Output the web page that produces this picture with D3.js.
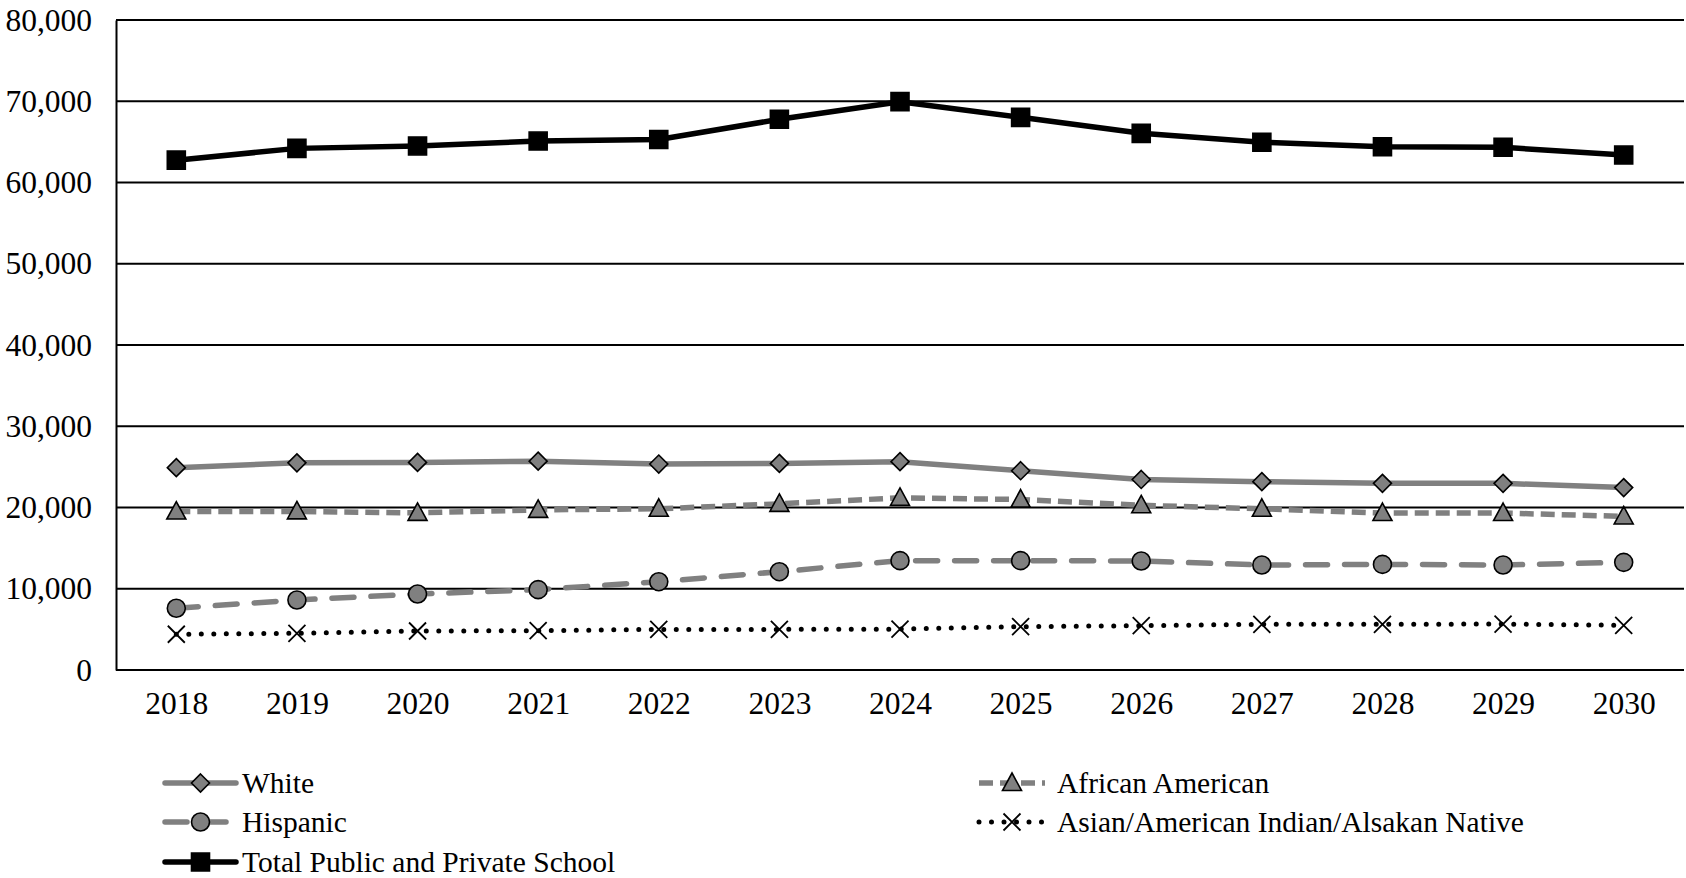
<!DOCTYPE html>
<html>
<head>
<meta charset="utf-8">
<script src="https://cdn.jsdelivr.net/npm/d3@7"></script>
<style>
  html, body { margin: 0; padding: 0; background: #fff; }
  svg { display: block; font-family: "Liberation Serif", "Times New Roman", serif; }
</style>
</head>
<body>
<svg id="chart" width="1686" height="878"></svg>
<script>
// Enrollment projections by group, 2018–2030
const years = ["2018","2019","2020","2021","2022","2023","2024","2025","2026","2027","2028","2029","2030"];
const white    = [24900, 25500, 25550, 25700, 25350, 25430, 25640, 24530, 23450, 23180, 22970, 22970, 22450];
const african  = [19500, 19520, 19340, 19710, 19840, 20450, 21190, 20980, 20270, 19840, 19320, 19320, 18900];
const hispanic = [7600, 8620, 9350, 9890, 10870, 12100, 13460, 13460, 13420, 12920, 13000, 12920, 13250];
const asian    = [4400, 4520, 4800, 4840, 5000, 5000, 5030, 5330, 5460, 5620, 5620, 5660, 5500];
const total    = [62750, 64200, 64500, 65100, 65300, 67780, 69950, 68020, 66050, 64950, 64400, 64330, 63380];
const yTicks   = [0, 10000, 20000, 30000, 40000, 50000, 60000, 70000, 80000];
const seriesNames = ["White", "African American", "Hispanic", "Asian/American Indian/Alsakan Native", "Total Public and Private School"];

const svg = d3.select("#chart");
const plot = { left: 116, right: 1684, top: 20, bottom: 670 };
const AXIS_FONT = 31.5;
const LEGEND_FONT = 29.5;
const SERIF = "Liberation Serif, Times New Roman, serif";
const GRAY = "#808080";

const x = d3.scalePoint().domain(years).range([plot.left, plot.right]).padding(0.5);
const y = d3.scaleLinear().domain([0, 80000]).range([plot.bottom, plot.top]);

// Marker shapes (path strings centred at 0,0)
const shapes = {
  diamond: "M0,-9L9,0L0,9L-9,0Z",
  square: "M-9,-9H9V9H-9Z",
  triangle: "M0,-10L9.5,7.5H-9.5Z",
  circle: d3.symbol().type(d3.symbolCircle).size(Math.PI * 9 * 9)(),
  cross: "M-8.5,-8.5L8.5,8.5M8.5,-8.5L-8.5,8.5"
};

const series = [
  { name: seriesNames[0], values: white,    color: GRAY,   width: 5.5, dash: null,    cap: "butt",  marker: "diamond",  fill: GRAY },
  { name: seriesNames[1], values: african,  color: GRAY,   width: 5.5, dash: "14 7",  cap: "butt",  marker: "triangle", fill: GRAY },
  { name: seriesNames[2], values: hispanic, color: GRAY,   width: 5.5, dash: "22 17", cap: "round", marker: "circle",   fill: GRAY },
  { name: seriesNames[3], values: asian,    color: "#000", width: 5,   dash: "0 12.5", cap: "round", marker: "cross",   fill: "none" },
  { name: seriesNames[4], values: total,    color: "#000", width: 5.5, dash: null,    cap: "butt",  marker: "square",   fill: "#000" }
];

// Horizontal gridlines
svg.append("g")
  .selectAll("line")
  .data(yTicks)
  .join("line")
  .attr("x1", plot.left).attr("x2", plot.right)
  .attr("y1", d => y(d)).attr("y2", d => y(d))
  .attr("stroke", "#000").attr("stroke-width", 1.8);

// Y axis
const yAxis = svg.append("g")
  .attr("transform", `translate(${plot.left},0)`)
  .call(d3.axisLeft(y).tickValues(yTicks).tickFormat(d3.format(",")).tickSize(0).tickPadding(24));
yAxis.select(".domain").attr("stroke", "#000").attr("stroke-width", 2);
yAxis.selectAll("text").attr("font-size", AXIS_FONT).attr("fill", "#000")
  .attr("font-family", SERIF);

// X axis labels
const xAxis = svg.append("g")
  .attr("transform", `translate(0,${plot.bottom})`)
  .call(d3.axisBottom(x).tickSize(0).tickPadding(22));
xAxis.select(".domain").remove();
xAxis.selectAll("text").attr("font-size", AXIS_FONT).attr("fill", "#000")
  .attr("font-family", SERIF);

// Series lines and markers
const line = d3.line().x((d, i) => x(years[i])).y(d => y(d));

function drawMarker(g, s, cx, cy) {
  const p = g.append("path")
    .attr("d", shapes[s.marker])
    .attr("transform", `translate(${cx},${cy})`);
  if (s.marker === "cross") {
    p.attr("fill", "none").attr("stroke", "#000").attr("stroke-width", 1.8);
  } else {
    p.attr("fill", s.fill).attr("stroke", "#000").attr("stroke-width", 1.6);
  }
}

series.forEach(s => {
  const g = svg.append("g");
  g.append("path")
    .attr("d", line(s.values))
    .attr("fill", "none")
    .attr("stroke", s.color)
    .attr("stroke-width", s.width)
    .attr("stroke-linecap", s.cap)
    .attr("stroke-linejoin", "round")
    .attr("stroke-dasharray", s.dash);
  s.values.forEach((v, i) => drawMarker(g, s, x(years[i]), y(v)));
});

// Legend
const legendPos = [
  { x: 165, y: 783 },
  { x: 979, y: 783 },
  { x: 165, y: 822 },
  { x: 979, y: 822 },
  { x: 165, y: 862 }
];
series.forEach((s, i) => {
  const p = legendPos[i];
  const lw = (i % 2 === 0) ? 71 : 66;
  const g = svg.append("g").attr("transform", `translate(${p.x},${p.y})`);
  g.append("line")
    .attr("x1", 0).attr("x2", lw).attr("y1", 0).attr("y2", 0)
    .attr("stroke", s.color)
    .attr("stroke-width", s.width)
    .attr("stroke-linecap", s.dash ? s.cap : "round")
    .attr("stroke-dasharray", s.dash);
  drawMarker(g, s, lw / 2, 0);
  g.append("text")
    .attr("x", i % 2 === 0 ? lw + 6 : lw + 12)
    .attr("y", 0)
    .attr("dy", "0.33em")
    .attr("font-size", LEGEND_FONT)
    .attr("fill", "#000")
    .attr("font-family", SERIF)
    .text(s.name);
});
</script>
</body>
</html>
